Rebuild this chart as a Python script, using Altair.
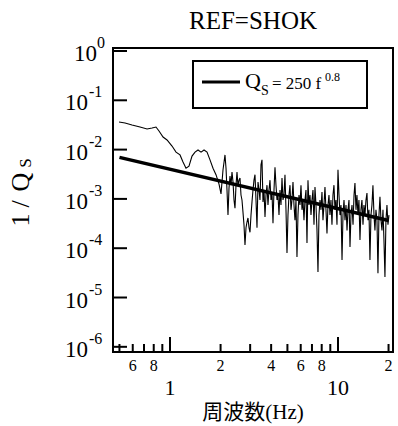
import altair as alt
import pandas as pd

# ---- data ----
freq_hz = [0.497, 0.540, 0.594, 0.663, 0.730, 0.782, 0.825, 0.860, 0.909, 0.960,
           1.028, 1.086, 1.147, 1.195, 1.245, 1.297, 1.352, 1.409, 1.468, 1.530,
           1.594, 1.661, 1.730, 1.803, 1.878, 1.958, 2.012, 2.068, 2.125, 2.155,
           2.184, 2.214, 2.245, 2.276, 2.307, 2.339, 2.372, 2.404, 2.437, 2.471,
           2.505, 2.539, 2.574, 2.610, 2.646, 2.682, 2.719, 2.757, 2.795, 2.834,
           2.873, 2.912, 2.953, 2.994, 3.035, 3.077, 3.119, 3.162, 3.206, 3.250,
           3.295, 3.341, 3.387, 3.433, 3.481, 3.529, 3.577, 3.627, 3.677, 3.728,
           3.779, 3.831, 3.884, 3.938, 3.992, 4.047, 4.103, 4.160, 4.217, 4.275,
           4.334, 4.394, 4.455, 4.516, 4.578, 4.642, 4.706, 4.771, 4.836, 4.903,
           4.971, 5.039, 5.109, 5.179, 5.251, 5.323, 5.397, 5.471, 5.546, 5.623,
           5.700, 5.779, 5.859, 5.940, 6.022, 6.105, 6.189, 6.275, 6.361, 6.449,
           6.538, 6.628, 6.720, 6.813, 6.907, 7.002, 7.099, 7.197, 7.296, 7.397,
           7.499, 7.602, 7.707, 7.813, 7.921, 8.030, 8.141, 8.254, 8.367, 8.483,
           8.600, 8.719, 8.839, 8.960, 9.084, 9.209, 9.336, 9.465, 9.597, 9.729,
           9.864, 10.00, 10.14, 10.28, 10.42, 10.57, 10.71, 10.86, 11.01, 11.16,
           11.32, 11.47, 11.63, 11.79, 11.95, 12.12, 12.29, 12.46, 12.62, 12.80,
           12.97, 13.15, 13.33, 13.52, 13.70, 13.89, 14.09, 14.28, 14.48, 14.68,
           14.88, 15.09, 15.29, 15.50, 15.72, 15.93, 16.15, 16.38, 16.60, 16.83,
           17.07, 17.30, 17.54, 17.78, 18.03, 18.28, 18.53, 18.78, 19.04, 19.30,
           19.57, 19.84, 20.12]

inv_qs = [0.0363, 0.0347, 0.0316, 0.0287, 0.0262, 0.0274, 0.0287, 0.0238, 0.0180, 0.0157,
          0.0118, 0.0089, 0.0078, 0.0056, 0.0042, 0.0046, 0.0074, 0.0089, 0.0098, 0.0089,
          0.0098, 0.0089, 0.0062, 0.0042, 0.0031, 0.0020, 0.00126, 0.0039, 0.0078, 0.0042,
          0.00152, 0.00047, 0.00166, 0.0029, 0.0019, 0.0035, 0.0022, 0.00095, 0.00065, 0.0019,
          0.0035, 0.00183, 0.0024, 0.00265, 0.0012, 0.00095, 0.00054, 0.0003, 0.000116, 0.00026,
          0.00034, 0.00041, 0.00026, 0.00021, 0.00047, 0.00087, 0.00152, 0.0024, 0.0031, 0.00095,
          0.00026, 0.0022, 0.00152, 0.00095, 0.0049, 0.0062, 0.00087, 0.00152, 0.00043, 0.0012,
          0.0019, 0.00075, 0.00152, 0.0024, 0.00095, 0.00138, 0.00032, 0.00152, 0.0044, 0.0019,
          0.00095, 0.0012, 0.00047, 0.00152, 0.00075, 0.00265, 0.00095, 0.0012, 0.0031, 0.0006,
          0.00008, 0.00047, 0.0012, 0.0019, 0.0006, 0.00095, 0.0022, 0.00075, 0.00037, 0.00095,
          0.000066, 0.00047, 0.0012, 0.00075, 0.0019, 0.0006, 0.00095, 0.00037, 0.00095, 0.00152,
          0.000127, 0.0024, 0.00075, 0.0012, 0.00047, 0.00095, 0.00152, 0.0003, 0.00174, 0.00075,
          0.00023, 0.000033, 0.00047, 0.00095, 0.0006, 0.00138, 0.00037, 0.00075, 0.00174, 0.0006,
          0.0002, 0.00075, 0.0012, 0.00047, 0.00095, 0.0003, 0.0012, 0.0019, 0.0006, 0.00095,
          0.0003, 0.0039, 0.0012, 0.00047, 0.00075, 0.000058, 0.00047, 0.00095, 0.00037, 0.00075,
          0.00023, 0.0006, 0.00095, 0.000106, 0.00047, 0.00075, 0.0003, 0.0012, 0.0021, 0.0006,
          0.0012, 0.00047, 0.00095, 0.000147, 0.0006, 0.00095, 0.0003, 0.00075, 0.00047, 0.00095,
          0.00132, 0.00037, 0.0006, 0.000058, 0.00047, 0.00075, 0.0019, 0.00047, 0.00023, 0.0006,
          0.00037, 0.000031, 0.00047, 0.0011, 0.00037, 0.00023, 0.0006, 0.000147, 0.000026, 0.00037,
          0.00075, 0.0003, 0.00047]

fit_freq_hz = [0.5, 20.0]
fit_inv_qs = [0.00696, 0.000364]          # Qs = 250 f^0.8

y_tick_values = [1.0, 1e-1, 1e-2, 1e-3, 1e-4, 1e-5, 1e-6]
y_tick_exponents = ["0", "-1", "-2", "-3", "-4", "-5", "-6"]
x_minor_ticks = [0.5, 0.6, 0.7, 0.8, 0.9, 2, 3, 4, 5, 6, 7, 8, 9, 20]
x_major_ticks = [1, 10]
x_minor_label_values = [0.6, 0.8, 2, 4, 6, 8, 20]
x_minor_label_texts = ["6", "8", "2", "4", "6", "8", "2"]
x_major_label_texts = ["1", "10"]

# ---- layout ----
W, H = 280, 304
FONT = "Liberation Serif, Noto Sans CJK JP"
xs = alt.Scale(type="log", domain=[0.4577, 21.26], nice=False)
ys = alt.Scale(type="log", domain=[7.85e-7, 1.15], nice=False)
one = pd.DataFrame({"a": [0]})


def txt(s, x, y, size, align="center", baseline="middle", angle=0, font=FONT):
    kw = dict(text=s, font=font, fontSize=size, align=align, baseline=baseline, color="black")
    if angle:
        kw["angle"] = angle
    return alt.Chart(one).mark_text(**kw).encode(x=alt.value(x), y=alt.value(y))


obs = alt.Chart(pd.DataFrame({"f": freq_hz, "v": inv_qs})).mark_line(
    color="black", strokeWidth=1.1).encode(
    x=alt.X("f:Q", scale=xs, axis=None),
    y=alt.Y("v:Q", scale=ys, axis=None))

fit = alt.Chart(pd.DataFrame({"f": fit_freq_hz, "v": fit_inv_qs})).mark_line(
    color="black", strokeWidth=3.5).encode(
    x=alt.X("f:Q", scale=xs, axis=None),
    y=alt.Y("v:Q", scale=ys, axis=None))

yt = pd.DataFrame({"v": y_tick_values, "e": y_tick_exponents})
ytick = alt.Chart(yt).mark_rule(color="black", strokeWidth=2).encode(
    y=alt.Y("v:Q", scale=ys, axis=None), x=alt.value(0), x2=alt.value(14))

yt_top = yt[yt.e == "0"]
yt_rest = yt[yt.e != "0"]
ylab_top = alt.Chart(yt_top).mark_text(text="10", font=FONT, fontSize=23, align="right",
                                       baseline="middle", dy=3).encode(
    y=alt.Y("v:Q", scale=ys, axis=None), x=alt.value(-16))
yexp_top = alt.Chart(yt_top).mark_text(font=FONT, fontSize=16, align="left",
                                       baseline="middle", dy=-8).encode(
    y=alt.Y("v:Q", scale=ys, axis=None), x=alt.value(-16), text="e:N")
ylab_rest = alt.Chart(yt_rest).mark_text(text="10", font=FONT, fontSize=23, align="right",
                                         baseline="middle", dy=3).encode(
    y=alt.Y("v:Q", scale=ys, axis=None), x=alt.value(-25))
yexp_rest = alt.Chart(yt_rest).mark_text(font=FONT, fontSize=16, align="left",
                                         baseline="middle", dy=-8).encode(
    y=alt.Y("v:Q", scale=ys, axis=None), x=alt.value(-24), text="e:N")

xminor = alt.Chart(pd.DataFrame({"f": x_minor_ticks})).mark_rule(
    color="black", strokeWidth=2).encode(
    x=alt.X("f:Q", scale=xs, axis=None), y=alt.value(H), y2=alt.value(H - 8))
xmajor = alt.Chart(pd.DataFrame({"f": x_major_ticks})).mark_rule(
    color="black", strokeWidth=2).encode(
    x=alt.X("f:Q", scale=xs, axis=None), y=alt.value(H), y2=alt.value(H - 15))

xminor_lab = alt.Chart(pd.DataFrame({"f": x_minor_label_values, "t": x_minor_label_texts})).mark_text(
    font=FONT, fontSize=16, baseline="middle", align="center").encode(
    x=alt.X("f:Q", scale=xs, axis=None), y=alt.value(318), text="t:N")
xmajor_lab = alt.Chart(pd.DataFrame({"f": x_major_ticks, "t": x_major_label_texts})).mark_text(
    font=FONT, fontSize=22, baseline="middle", align="center").encode(
    x=alt.X("f:Q", scale=xs, axis=None), y=alt.value(340), text="t:N")

legend_box = alt.Chart(one).mark_rect(fill="white", stroke="black", strokeWidth=2).encode(
    x=alt.value(80), x2=alt.value(254), y=alt.value(13), y2=alt.value(60))
legend_line = alt.Chart(one).mark_rule(color="black", strokeWidth=3).encode(
    x=alt.value(89), x2=alt.value(127), y=alt.value(34))

layers = [
    obs, fit, ytick, ylab_top, yexp_top, ylab_rest, yexp_rest,
    xminor, xmajor, xminor_lab, xmajor_lab,
    legend_box, legend_line,
    txt("Q", 132, 40, 22, align="left", baseline="alphabetic"),
    txt("S", 148, 47, 14, align="left", baseline="alphabetic"),
    txt("= 250 f", 159, 41, 17, align="left", baseline="alphabetic"),
    txt("0.8", 212, 33, 12, align="left", baseline="alphabetic"),
    txt("REF=SHOK", 140, -27, 25),
    txt("周波数(Hz)", 140, 365, 21),
    txt("1", -92, 172, 26, angle=270),
    txt("/", -92, 156, 26, angle=270),
    txt("Q", -92, 134, 26, angle=270),
    txt("S", -87, 115, 17, angle=270),
]

chart = alt.layer(*layers).properties(
    width=W, height=H,
    autosize=alt.AutoSizeParams(type="none"),
    padding={"left": 113, "top": 48, "right": 5, "bottom": 74},
    background="white",
).configure_view(stroke="black", strokeWidth=2)

chart.save("out.html", embed_options={"renderer": "svg", "actions": False})
